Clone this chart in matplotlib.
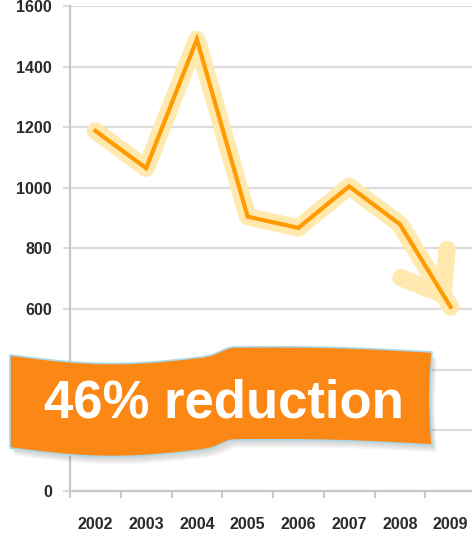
import numpy as np
import matplotlib
matplotlib.use("Agg")
import matplotlib.pyplot as plt
from matplotlib.patches import Polygon

years = ["2002", "2003", "2004", "2005", "2006", "2007", "2008", "2009"]
values = [1188, 1065, 1490, 905, 868, 1005, 880, 607]
y_ticks = [0, 200, 400, 600, 800, 1000, 1200, 1400, 1600]
banner_text = "46% reduction"

W, H = 472, 538
fig = plt.figure(figsize=(W / 100, H / 100), dpi=100)
fig.patch.set_facecolor("white")

# axes box in pixels: left 70, bottom 491, top 6, right past the image edge
ax = fig.add_axes([70 / W, 1 - 491 / H, (476 - 70) / W, (491 - 6) / H])
ax.set_xlim(-0.5, len(years) - 0.5)
ax.set_ylim(0, 1600)

x = np.arange(len(years))
glow = "#FFE9AE"
ax.plot(x, values, color=glow, lw=12.5, solid_capstyle="round",
        solid_joinstyle="round", zorder=2)
ax.annotate("", xy=(x[-1], values[-1]), xytext=(x[-2], values[-2]),
            arrowprops=dict(arrowstyle="->,head_length=1.75,head_width=1.3",
                            mutation_scale=15, lw=12.5, color=glow,
                            capstyle="round", joinstyle="round",
                            shrinkA=0, shrinkB=0),
            zorder=2)
ax.plot(x, values, color="#FF9A00", lw=3, solid_joinstyle="miter", zorder=3)

ax.set_yticks(y_ticks)
ax.set_yticklabels([str(v) for v in y_ticks])
ax.grid(axis="y", color="#DCDCDC", lw=1.6, zorder=0)
ax.set_axisbelow(True)

ax.set_xticks(np.arange(len(years) + 1) - 0.5)
ax.set_xticklabels([])
ax.set_xticks(x, minor=True)
ax.set_xticklabels(years, minor=True)
ax.tick_params(axis="x", which="major", length=5, width=1.5, color="#C8C8C8")
ax.tick_params(axis="x", which="minor", length=0, pad=19)
ax.tick_params(axis="y", length=5, width=1.5, color="#DCDCDC", pad=8)
for lab in ax.get_xticklabels(minor=True) + ax.get_yticklabels():
    lab.set_fontfamily("Liberation Sans")
    lab.set_fontweight("bold")
    lab.set_fontsize(11.5)
    lab.set_color("#2A2A2A")

for s in ["top", "right"]:
    ax.spines[s].set_visible(False)
ax.spines["left"].set_color("#C8C8C8")
ax.spines["bottom"].set_color("#C8C8C8")
ax.spines["left"].set_linewidth(1.6)
ax.spines["bottom"].set_linewidth(1.6)

# wavy ribbon banner, built in image pixels
def top_edge(px):
    left = 355 + 8 * np.sin(np.pi * np.clip(px - 10, 0, 200) / 200) + (px - 10) / 200 * 1
    step = np.clip((px - 205) / 30, 0, 1)
    step = 0.5 - 0.5 * np.cos(np.pi * step)
    right = 347 - 2 * np.sin(np.pi * np.clip(px - 235, 0, 197) / 197) + np.clip(px - 235, 0, 197) / 197 * 5
    y = np.where(px <= 205, left, np.where(px >= 235, right, 356 + (347 - 356) * step))
    return y

xs = np.linspace(10, 432, 400)
ys = top_edge(xs)
pts = list(zip(xs, ys))
ry = np.linspace(ys[-1], ys[-1] + 93, 20)
pts += list(zip(432 - 2 * np.sin(np.pi * (ry - ry[0]) / 93), ry))
pts += list(zip(xs[::-1], ys[::-1] + 93))
pts = np.array(pts)

def to_fig(p, dx=0, dy=0):
    return np.column_stack([(p[:, 0] + dx) / W, 1 - (p[:, 1] + dy) / H])

for i, a in enumerate([0.06, 0.06, 0.06, 0.06]):
    fig.patches.append(Polygon(to_fig(pts, 2 + i, 3 + i * 1.5), closed=True,
                               transform=fig.transFigure, facecolor="#555555",
                               edgecolor="none", alpha=a, zorder=5))
fig.patches.append(Polygon(to_fig(pts), closed=True, transform=fig.transFigure,
                           facecolor="#FB8714", edgecolor="#A9D7E6", lw=1.2,
                           zorder=6))
fig.text(224 / W, 1 - 418 / H, banner_text, ha="center", va="baseline",
         fontsize=38, fontweight="bold", color="white",
         family="Liberation Sans", zorder=7)

fig.savefig("out.png", dpi=100)
